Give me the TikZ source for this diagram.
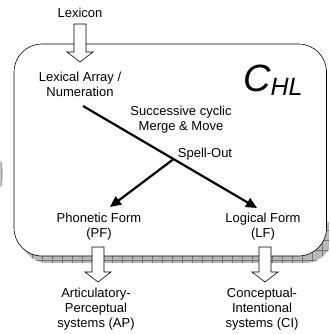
\documentclass[tikz,border=0pt]{standalone}
\usepackage{fontspec}
\setmainfont{Liberation Sans}
\usetikzlibrary{arrows.meta}

\tikzset{
  lbl/.style={align=center,font=\fontsize{13}{15}\selectfont,inner sep=0pt},
  flow/.style={line width=2.2pt,-{Triangle[length=11pt,width=10pt]}},
  panel/.style={draw=black,line width=0.6pt,fill=white,rounded corners=28pt},
  pics/hollow/.style={code={
    \draw[line width=0.6pt,fill=white]
      (-6,0) -- (-6,#1-10) -- (-13,#1-10) -- (0,#1) -- (13,#1-10) -- (6,#1-10) -- (6,0) -- cycle;
  }}
}

\begin{document}
\begin{tikzpicture}[x=1pt,y=-1pt]
  \useasboundingbox (0,0) rectangle (329,334);
  \clip (0,0) rectangle (329,334);

  % partly hidden shaded item at the left border
  \fill[gray!45] (-6,174) ellipse [x radius=9, y radius=19];
  \draw[gray!70,line width=0.4pt] (1,162) -- (1,186);

  % patterned drop shadow of the component panel (lower part only shows)
  \begin{scope}
    \clip (0,222) rectangle (340,270);
    \clip[rounded corners=28pt] (20,51) rectangle (333,263);
    \fill[gray!55] (20,51) rectangle (333,263);
    \foreach \gx in {22,32,...,332} \draw[black!55,line width=0.5pt] (\gx,200) -- (\gx,263);
    \foreach \gy in {230,240,...,260} \draw[black!55,line width=0.5pt] (20,\gy) -- (333,\gy);
  \end{scope}

  % the computational system panel
  \draw[panel] (14,44) rectangle (326.5,256);

  % labels
  \node[lbl,anchor=base] (lex) at (80,18) {Lexicon};
  \node[lbl] (la) at (80,84.5) {Lexical Array /\\Numeration};
  \node[anchor=base west,inner sep=0pt] (chl) at (243,92)
    {\itshape\fontsize{38}{40}\selectfont C\raisebox{-4pt}{\fontsize{25}{25}\selectfont HL}};
  \node[lbl] (smm) at (181,120) {Successive cyclic\\Merge \& Move};
  \node[lbl,anchor=base] (so) at (205,157) {Spell-Out};
  \node[lbl] (pf) at (99,226.5) {Phonetic Form\\(PF)};
  \node[lbl] (lf) at (263,226.5) {Logical Form\\(LF)};
  \node[lbl] (ap) at (96,309) {Articulatory-\\Perceptual\\systems (AP)};
  \node[lbl] (ci) at (262,309) {Conceptual-\\Intentional\\systems (CI)};

  % derivation lines
  \coordinate (start) at (83,106);
  \coordinate (split) at (173,159.5);
  \coordinate (lfend) at (257,208);
  \coordinate (pfend) at (110,207);
  \draw[flow] (start) -- (lfend);
  \draw[flow] (split) -- (pfend);

  % block arrows into and out of the panel
  \pic at (80,24) {hollow=38};
  \pic at (98,247) {hollow=35};
  \pic at (265,247) {hollow=35};
\end{tikzpicture}
\end{document}
